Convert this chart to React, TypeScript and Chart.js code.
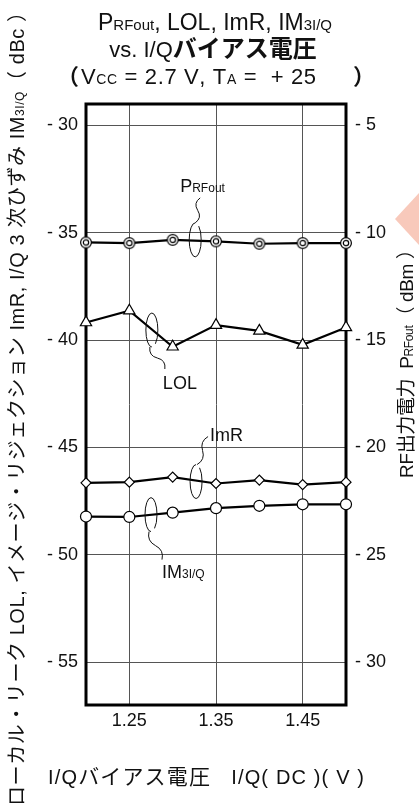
import React, { useEffect, useRef } from "react";
import { Chart, registerables } from "chart.js";
Chart.register(...registerables);

// ---- data ----
const biasV = [1.2, 1.25, 1.3, 1.35, 1.4, 1.45, 1.5];
const prfout = [-10.45, -10.48, -10.33, -10.4, -10.51, -10.48, -10.48]; // dBm (right axis)
const lol = [-39.18, -38.63, -40.31, -39.3, -39.57, -40.22, -39.41]; // dBc
const imr = [-46.65, -46.62, -46.38, -46.68, -46.52, -46.73, -46.62]; // dBc
const im3 = [-48.22, -48.24, -48.04, -47.83, -47.72, -47.65, -47.65]; // dBc
const xTicks = [1.25, 1.35, 1.45];
const leftTicks = [-30, -35, -40, -45, -50, -55];
const rightTicks = [-5, -10, -15, -20, -25, -30];

const FONT = '"Liberation Sans", Arial, "Noto Sans CJK JP", sans-serif';

type Run = { t: string; size: number; bold?: boolean };
const fontOf = (r: Run) => `${r.bold ? "bold " : ""}${r.size}px ${FONT}`;

function naturalWidth(ctx: CanvasRenderingContext2D, runs: Run[]) {
  let w = 0;
  let n = 0;
  for (const r of runs) {
    ctx.font = fontOf(r);
    for (const ch of Array.from(r.t)) {
      w += ctx.measureText(ch).width;
      n++;
    }
  }
  return { w, n };
}

function drawRuns(ctx: CanvasRenderingContext2D, runs: Run[], x: number, y: number, ls = 0) {
  let cx = x;
  ctx.textAlign = "left";
  ctx.textBaseline = "alphabetic";
  for (const r of runs) {
    ctx.font = fontOf(r);
    for (const ch of Array.from(r.t)) {
      ctx.fillText(ch, cx, y);
      cx += ctx.measureText(ch).width + ls;
    }
  }
  return cx;
}

function drawCentered(ctx: CanvasRenderingContext2D, runs: Run[], cx: number, y: number) {
  const { w } = naturalWidth(ctx, runs);
  drawRuns(ctx, runs, cx - w / 2, y);
}

function drawFit(ctx: CanvasRenderingContext2D, runs: Run[], x0: number, x1: number, y: number) {
  const { w, n } = naturalWidth(ctx, runs);
  const ls = n > 1 ? (x1 - x0 - w) / (n - 1) : 0;
  drawRuns(ctx, runs, x0, y, ls);
}

function makeDoubleCircle() {
  const c = document.createElement("canvas");
  c.width = 14;
  c.height = 14;
  const g = c.getContext("2d")!;
  g.fillStyle = "#fff";
  g.strokeStyle = "#000";
  g.lineWidth = 1.2;
  g.beginPath();
  g.arc(7, 7, 5.4, 0, Math.PI * 2);
  g.fill();
  g.stroke();
  g.beginPath();
  g.arc(7, 7, 2.7, 0, Math.PI * 2);
  g.stroke();
  return c;
}

// leader annotations: anchor (loop centre) in data units of x / left axis
const notes = [
  { x: 1.326, y: -35.33, label: [{ t: "P", size: 18 }, { t: "RFout", size: 12 }], ldx: -15, ldy: -48, from: [5, -42], to: [0, -17], up: true },
  { x: 1.276, y: -39.53, label: [{ t: "LOL", size: 18 }], ldx: 11, ldy: 59, from: [13, 39], to: [-2, 17], up: false },
  { x: 1.327, y: -46.59, label: [{ t: "ImR", size: 18 }], ldx: 14, ldy: -41, from: [12, -45], to: [1, -17], up: true },
  { x: 1.275, y: -48.13, label: [{ t: "IM", size: 18 }, { t: "3I/Q", size: 12 }], ldx: 11, ldy: 63, from: [11, 45], to: [-2, 17], up: false },
];

function sCurve(ctx: CanvasRenderingContext2D, x1: number, y1: number, x2: number, y2: number, amp: number) {
  const mx = (x1 + x2) / 2, my = (y1 + y2) / 2;
  const dx = x2 - x1, dy = y2 - y1;
  const len = Math.hypot(dx, dy) || 1;
  const nx = -dy / len, ny = dx / len;
  ctx.moveTo(x1, y1);
  ctx.quadraticCurveTo((x1 + mx) / 2 + nx * amp, (y1 + my) / 2 + ny * amp, mx, my);
  ctx.quadraticCurveTo((mx + x2) / 2 - nx * amp, (my + y2) / 2 - ny * amp, x2, y2);
}

const decorPlugin = {
  id: "decor",
  beforeDatasetsDraw(chart: any) {
    const { ctx, chartArea: a } = chart;
    ctx.save();
    ctx.strokeStyle = "#000";
    ctx.lineWidth = 3;
    ctx.strokeRect(a.left, a.top, a.right - a.left, a.bottom - a.top);
    ctx.restore();
  },
  afterDraw(chart: any) {
    const { ctx } = chart;
    const xs = chart.scales.x, ys = chart.scales.y;
    ctx.save();
    ctx.fillStyle = "#111";

    // title
    drawCentered(ctx, [
      { t: "P", size: 23 }, { t: "RFout", size: 15 }, { t: ", LOL, ImR, IM", size: 23 }, { t: "3I/Q", size: 15 },
    ], 215, 30);
    drawCentered(ctx, [{ t: "vs. I/Q", size: 22 }, { t: "バイアス電圧", size: 24, bold: true }], 213, 57);
    ctx.font = `bold 22px ${FONT}`;
    ctx.textAlign = "right";
    ctx.fillText("（", 79, 84);
    drawFit(ctx, [
      { t: "V", size: 22 }, { t: "CC", size: 14 }, { t: " = 2.7 V, T", size: 22 }, { t: "A", size: 14 }, { t: " =  + 25", size: 22 },
    ], 81, 316, 84);
    ctx.font = `bold 22px ${FONT}`;
    ctx.textAlign = "left";
    ctx.fillText("）", 353, 84);

    // x axis title
    drawFit(ctx, [
      { t: "I/Q", size: 20 }, { t: "バイアス電圧", size: 21 }, { t: "   ", size: 20 }, { t: "I/Q( DC )( V )", size: 20 },
    ], 48, 364, 784);

    // left axis title (vertical)
    ctx.save();
    ctx.translate(17, 404);
    ctx.rotate(-Math.PI / 2);
    const leftRuns: Run[] = [
      { t: "ローカル・リーク LOL, イメージ・リジェクション ImR, I/Q 3 次ひずみ IM", size: 20 },
      { t: "3I/Q", size: 12 },
      { t: "（ dBc ）", size: 20 },
    ];
    drawFit(ctx, leftRuns, -402, 402, 7);
    ctx.restore();

    // right axis title (vertical)
    ctx.save();
    ctx.translate(406, 359);
    ctx.rotate(-Math.PI / 2);
    drawFit(ctx, [
      { t: "RF出力電力  P", size: 19 }, { t: "RFout", size: 12 }, { t: "（ dBm ）", size: 19 },
    ], -119, 119, 7);
    ctx.restore();

    // annotations
    ctx.strokeStyle = "#111";
    ctx.lineWidth = 1;
    for (const n of notes) {
      const cx = xs.getPixelForValue(n.x);
      const cy = ys.getPixelForValue(n.y);
      ctx.beginPath();
      sCurve(ctx, cx + n.from[0], cy + n.from[1], cx + n.to[0], cy + n.to[1], 6);
      ctx.stroke();
      ctx.beginPath();
      const start = n.up ? -Math.PI / 2 : Math.PI / 2;
      const dir = n.up ? -1 : 1;
      ctx.ellipse(cx, cy, 6, 17, 0, start, start + dir * Math.PI * 1.8, n.up);
      ctx.stroke();
      drawRuns(ctx, n.label as Run[], cx + n.ldx, cy + n.ldy);
    }

    // page-edge marker
    ctx.fillStyle = "rgb(248,201,187)";
    ctx.beginPath();
    ctx.moveTo(419, 193);
    ctx.lineTo(395, 219);
    ctx.lineTo(419, 245);
    ctx.closePath();
    ctx.fill();
    ctx.restore();
  },
};

export default function App() {
  const ref = useRef<HTMLCanvasElement>(null);
  useEffect(() => {
    const canvas = ref.current!;
    const dbl = makeDoubleCircle();
    const mk = (v: number[]) => biasV.map((x, i) => ({ x, y: v[i] }));
    const common = {
      borderColor: "#000",
      borderWidth: 2.2,
      pointBackgroundColor: "#fff",
      pointBorderColor: "#000",
      pointBorderWidth: 1.2,
      tension: 0,
      clip: false,
    };
    const gridColor = "#555";
    const chart = new Chart(canvas, {
      type: "line",
      data: {
        datasets: [
          { ...common, label: "PRFout", data: mk(prfout), yAxisID: "y2", pointStyle: dbl as any, pointRadius: 6 },
          { ...common, label: "LOL", data: mk(lol), yAxisID: "y", pointStyle: "triangle", pointRadius: 6.5 },
          { ...common, label: "ImR", data: mk(imr), yAxisID: "y", pointStyle: "rectRot", pointRadius: 5 },
          { ...common, label: "IM3I/Q", data: mk(im3), yAxisID: "y", pointStyle: "circle", pointRadius: 5.5 },
        ] as any,
      },
      options: {
        responsive: false,
        devicePixelRatio: 1,
        animation: false,
        events: [],
        layout: { padding: { top: 104, left: 0, right: 0, bottom: 0 } },
        plugins: { legend: { display: false }, tooltip: { enabled: false }, title: { display: false } },
        scales: {
          x: {
            type: "linear",
            min: 1.2,
            max: 1.5,
            afterBuildTicks: (s: any) => { s.ticks = xTicks.map((v) => ({ value: v })); },
            afterFit: (s: any) => { s.height = 104; },
            grid: { color: gridColor, lineWidth: 1, drawTicks: false },
            border: { display: false },
            ticks: { color: "#111", font: { family: FONT, size: 18 }, padding: 5, maxRotation: 0, callback: (v: any) => Number(v).toFixed(2) },
          },
          y: {
            type: "linear",
            position: "left",
            min: -57,
            max: -29,
            afterBuildTicks: (s: any) => { s.ticks = leftTicks.map((v) => ({ value: v })); },
            afterFit: (s: any) => { s.width = 86; },
            grid: { color: gridColor, lineWidth: 1, drawTicks: false },
            border: { display: false },
            ticks: { color: "#111", font: { family: FONT, size: 18 }, padding: 8, callback: (v: any) => "- " + Math.abs(Number(v)) },
          },
          y2: {
            type: "linear",
            position: "right",
            min: -32,
            max: -4,
            afterBuildTicks: (s: any) => { s.ticks = rightTicks.map((v) => ({ value: v })); },
            afterFit: (s: any) => { s.width = 73; },
            grid: { display: false, drawTicks: false },
            border: { display: false },
            ticks: { color: "#111", font: { family: FONT, size: 18 }, padding: 9, callback: (v: any) => "- " + Math.abs(Number(v)) },
          },
        },
      },
      plugins: [decorPlugin],
    } as any);
    return () => chart.destroy();
  }, []);
  return (
    <div style={{ position: "absolute", left: 0, top: 0, width: 419, height: 809, background: "#fff" }}>
      <canvas ref={ref} width={419} height={809} style={{ display: "block", width: 419, height: 809 }} />
    </div>
  );
}
